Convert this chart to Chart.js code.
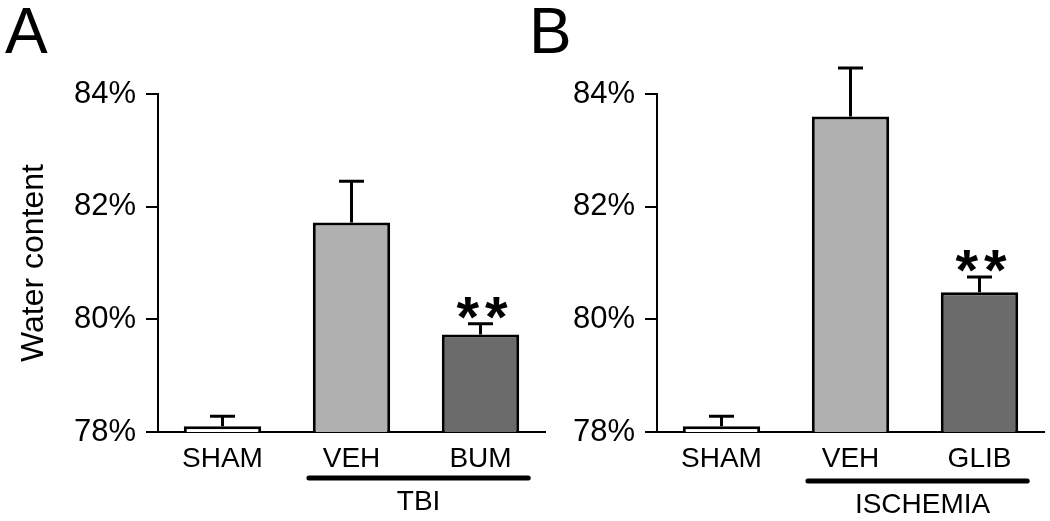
<!DOCTYPE html>
<html>
<head>
<meta charset="utf-8">
<script src="https://cdn.jsdelivr.net/npm/chart.js@4.4.0/dist/chart.umd.min.js"></script>
<style>
  html, body { margin: 0; padding: 0; background: #fff; }
  #wrap { position: relative; width: 1050px; height: 521px; overflow: hidden; }
  canvas { position: absolute; top: 0; }
  #chartA { left: 0; }
  #chartB { left: 525px; }
</style>
</head>
<body>
<div id="wrap">
  <canvas id="chartA" width="550" height="521"></canvas>
  <canvas id="chartB" width="525" height="521"></canvas>
</div>
<script>
// panel A: TBI
const categoriesA = ['SHAM', 'VEH', 'BUM'];
const valuesA = [78.1, 81.72, 79.73];
const errorsA = [0.18, 0.73, 0.19];
const starsA = ['', '', '**'];
const groupA = 'TBI';

// panel B: ischemia
const categoriesB = ['SHAM', 'VEH', 'GLIB'];
const valuesB = [78.1, 83.6, 80.48];
const errorsB = [0.18, 0.86, 0.27];
const starsB = ['', '', '**'];
const groupB = 'ISCHEMIA';

const yTicks = [78, 80, 82, 84];
const barColors = ['#ffffff', '#b0b0b0', '#6b6b6b'];
const FONT = '"Liberation Sans", Arial, Helvetica, sans-serif';

const annotPlugin = {
  id: 'annot',
  afterDatasetsDraw(chart, args, opts) {
    const ctx = chart.ctx;
    const y = chart.scales.y;
    const meta = chart.getDatasetMeta(0);
    const vals = chart.data.datasets[0].data;
    ctx.save();
    ctx.strokeStyle = '#000';
    ctx.fillStyle = '#000';
    ctx.lineWidth = 3;
    meta.data.forEach((bar, i) => {
      const top = y.getPixelForValue(vals[i] + opts.errors[i]);
      ctx.beginPath();
      ctx.moveTo(bar.x, bar.y);
      ctx.lineTo(bar.x, top);
      ctx.moveTo(bar.x - 12.5, top);
      ctx.lineTo(bar.x + 12.5, top);
      ctx.stroke();
      const s = opts.stars[i];
      if (s) {
        // significance stars, each glyph placed separately for wider spacing
        ctx.font = 'bold 58px ' + FONT;
        ctx.textAlign = 'center';
        ctx.textBaseline = 'alphabetic';
        for (let k = 0; k < s.length; k++) {
          const cx = bar.x + 1.5 + (k - (s.length - 1) / 2) * 28.5;
          ctx.fillText(s[k], cx, top + 13);
        }
      }
    });
    ctx.restore();
  },
  afterDraw(chart, args, opts) {
    const ctx = chart.ctx;
    const x = chart.scales.x;
    ctx.save();
    ctx.fillStyle = '#000';
    ctx.strokeStyle = '#000';
    // panel letter
    ctx.font = '64px ' + FONT;
    ctx.textAlign = 'left';
    ctx.textBaseline = 'alphabetic';
    ctx.fillText(opts.letter, opts.letterX, 53);
    // group underline
    const x1 = x.getPixelForValue(1), x2 = x.getPixelForValue(2);
    const cat = x2 - x1;
    const a = x1 - cat * 0.33, b = x2 + cat * 0.37;
    ctx.lineWidth = 5;
    ctx.lineCap = 'round';
    ctx.beginPath();
    ctx.moveTo(a, opts.lineY);
    ctx.lineTo(b, opts.lineY);
    ctx.stroke();
    ctx.font = '28px ' + FONT;
    ctx.textAlign = 'center';
    ctx.textBaseline = 'middle';
    ctx.fillText(opts.group, (a + b) / 2 + opts.labelDx, opts.labelY);
    ctx.restore();
  }
};

function makeChart(id, cats, vals, errs, stars, group, o) {
  return new Chart(document.getElementById(id), {
    type: 'bar',
    data: {
      labels: cats,
      datasets: [{
        data: vals,
        backgroundColor: barColors,
        borderColor: '#000',
        borderWidth: 3,
        barPercentage: 0.6,
        categoryPercentage: 1
      }]
    },
    options: {
      responsive: false,
      animation: false,
      layout: { padding: { top: 94, right: o.padRight, left: 0, bottom: 0 } },
      plugins: {
        legend: { display: false },
        tooltip: { enabled: false },
        annot: { errors: errs, stars: stars, group: group, letter: o.letter, letterX: o.letterX,
                 lineY: o.lineY, labelY: o.labelY, labelDx: o.labelDx }
      },
      scales: {
        x: {
          grid: { display: false },
          border: { display: true, color: '#000', width: 2 },
          ticks: { color: '#000', padding: 2, font: { family: FONT, size: 28 } },
          afterFit: s => { s.height = 89; }
        },
        y: {
          min: 78, max: 84,
          afterBuildTicks: s => { s.ticks = yTicks.map(v => ({ value: v })); },
          grid: { display: true, drawOnChartArea: false, drawTicks: true, tickLength: 12, color: '#000', lineWidth: 2 },
          border: { display: true, color: '#000', width: 2 },
          ticks: { color: '#000', padding: 10, font: { family: FONT, size: 31 }, callback: v => v + '%' },
          title: { display: o.yTitle, text: 'Water content', color: '#000', font: { family: FONT, size: 32 }, padding: { top: 15, bottom: 0 } },
          afterFit: s => { s.width = o.yWidth; }
        }
      }
    },
    plugins: [annotPlugin]
  });
}

makeChart('chartA', categoriesA, valuesA, errorsA, starsA, groupA,
  { letter: 'A', letterX: 5, padRight: 5, yWidth: 158, yTitle: true, lineY: 478, labelY: 502, labelDx: 0 });
makeChart('chartB', categoriesB, valuesB, errorsB, starsB, groupB,
  { letter: 'B', letterX: 4, padRight: 6, yWidth: 132, yTitle: false, lineY: 481, labelY: 505, labelDx: 5 });
</script>
</body>
</html>
